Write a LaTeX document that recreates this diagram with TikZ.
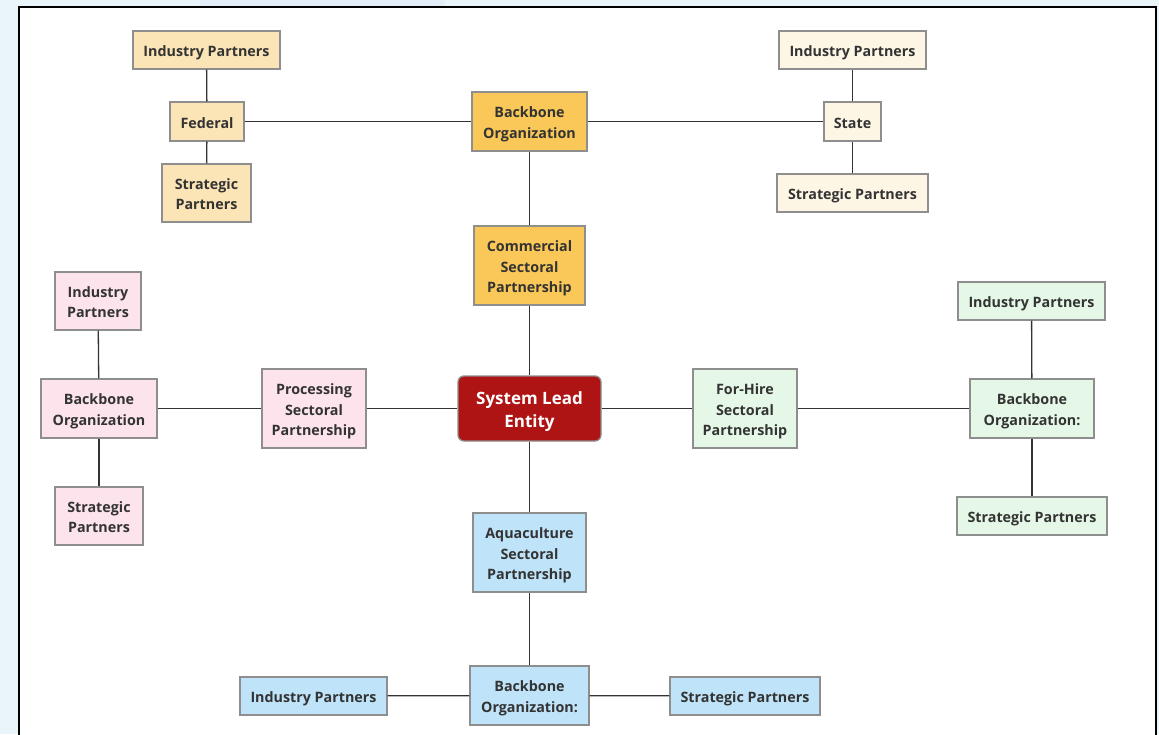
\documentclass[tikz,border=0pt]{standalone}
\usepackage{fontspec}
\setmainfont{Open Sans}
\definecolor{bgblue}{HTML}{E9F5F9}
\definecolor{bgpatch}{HTML}{E3EEF8}
\definecolor{txt}{HTML}{333333}
\definecolor{bord}{HTML}{8E8E8E}
\definecolor{lin}{HTML}{333333}
\definecolor{cyel}{HTML}{FBE4B5}
\definecolor{cgold}{HTML}{FAC858}
\definecolor{ccream}{HTML}{FEF6E5}
\definecolor{cpink}{HTML}{FDE4EC}
\definecolor{cgreen}{HTML}{E5F8E7}
\definecolor{cblue}{HTML}{BFE3F8}
\definecolor{cred}{HTML}{AF1414}
\newcommand\tx[1]{\raisebox{-2.5pt}[\height][\depth]{\begin{tabular}{@{}c@{}}#1\end{tabular}}}
\begin{document}
\begin{tikzpicture}[x=1pt,y=-1pt,
  box/.style={draw=bord,line width=1.3pt,inner sep=0pt,align=center,text=txt,
    font=\fontsize{14.3}{20.5}\selectfont\bfseries},
  conn/.style={draw=lin,line width=1.3pt},
  yel/.style={box,fill=cyel},
  gold/.style={box,fill=cgold},
  cream/.style={box,fill=ccream},
  pink/.style={box,fill=cpink},
  green/.style={box,fill=cgreen},
  blue/.style={box,fill=cblue},
  sz/.style 2 args={minimum width=#1pt,minimum height=#2pt}]
\useasboundingbox (0,0) rectangle (1159,734);
\fill[bgblue] (0,0) rectangle (1159,734);
\fill[bgpatch] (200,0) rectangle (445,6);
\fill[white] (18.5,6.5) rectangle (1155.5,740);
\draw[black,line width=2pt] (18.5,740) -- (18.5,6.5) -- (1155.5,6.5) -- (1155.5,740);

% top-left (yellow)
\node[yel,sz={147}{38}] (tlind) at (206.5,50) {\tx{Industry Partners}};
\node[yel,sz={74}{39}] (tlfed) at (207,121.5) {\tx{Federal}};
\node[yel,sz={89}{58}] (tlstr) at (206.5,193) {\tx{Strategic\\Partners}};
% top center (gold)
\node[gold,sz={115}{59}] (tbb) at (529.5,121.5) {\tx{Backbone\\Organization}};
\node[gold,sz={111}{79}] (com) at (529.5,265.5) {\tx{Commercial\\Sectoral\\Partnership}};
% top-right (cream)
\node[cream,sz={147}{38}] (trind) at (852.5,50) {\tx{Industry Partners}};
\node[cream,sz={57}{39}] (trsta) at (852.5,121.5) {\tx{State}};
\node[cream,sz={151}{38}] (trstr) at (852.5,193) {\tx{Strategic Partners}};
% left (pink)
\node[pink,sz={86}{58}] (lind) at (98,301) {\tx{Industry\\Partners}};
\node[pink,sz={116}{59}] (lbb) at (99,408.5) {\tx{Backbone\\Organization}};
\node[pink,sz={88}{58}] (lstr) at (99,516) {\tx{Strategic\\Partners}};
\node[pink,sz={104}{79}] (proc) at (314,408.5) {\tx{Processing\\Sectoral\\Partnership}};
% center
\node[draw=bord,line width=1.3pt,fill=cred,rounded corners=6pt,inner sep=0pt,
  minimum width=143pt,minimum height=65pt,align=center,text=white,
  font=\fontsize{17}{23.5}\selectfont\bfseries] (sle) at (529.5,408.5) {\raisebox{-3pt}[\height][\depth]{\begin{tabular}{@{}c@{}}System Lead\\Entity\end{tabular}}};
% right (green)
\node[green,sz={104}{79}] (fh) at (745,408.5) {\tx{For-Hire\\Sectoral\\Partnership}};
\node[green,sz={147}{38}] (rind) at (1031.5,301) {\tx{Industry Partners}};
\node[green,sz={124}{59}] (rbb) at (1032,408.5) {\tx{Backbone\\Organization:}};
\node[green,sz={150}{38}] (rstr) at (1032,516) {\tx{Strategic Partners}};
% bottom (blue)
\node[blue,sz={113}{79}] (aqua) at (529.5,552.5) {\tx{Aquaculture\\Sectoral\\Partnership}};
\node[blue,sz={119}{59}] (bbb) at (529.5,695.5) {\tx{Backbone\\Organization:}};
\node[blue,sz={147}{38}] (bind) at (313.5,696) {\tx{Industry Partners}};
\node[blue,sz={150}{38}] (bstr) at (745,696) {\tx{Strategic Partners}};

% connectors
\draw[conn] (tlind) -- (tlfed);
\draw[conn] (tlfed) -- (tlstr);
\draw[conn] (tlfed) -- (tbb);
\draw[conn] (tbb) -- (trsta);
\draw[conn] (trind) -- (trsta);
\draw[conn] (trsta) -- (trstr);
\draw[conn] (tbb) -- (com);
\draw[conn] (com) -- (sle);
\draw[conn] (lind) -- (lbb);
\draw[conn] (lbb) -- (lstr);
\draw[conn] (lbb) -- (proc);
\draw[conn] (proc) -- (sle);
\draw[conn] (sle) -- (fh);
\draw[conn] (fh) -- (rbb);
\draw[conn] (rind) -- (rbb);
\draw[conn] (rbb) -- (rstr);
\draw[conn] (sle) -- (aqua);
\draw[conn] (aqua) -- (bbb);
\draw[conn] (bind) -- (bbb);
\draw[conn] (bbb) -- (bstr);
\end{tikzpicture}
\end{document}
